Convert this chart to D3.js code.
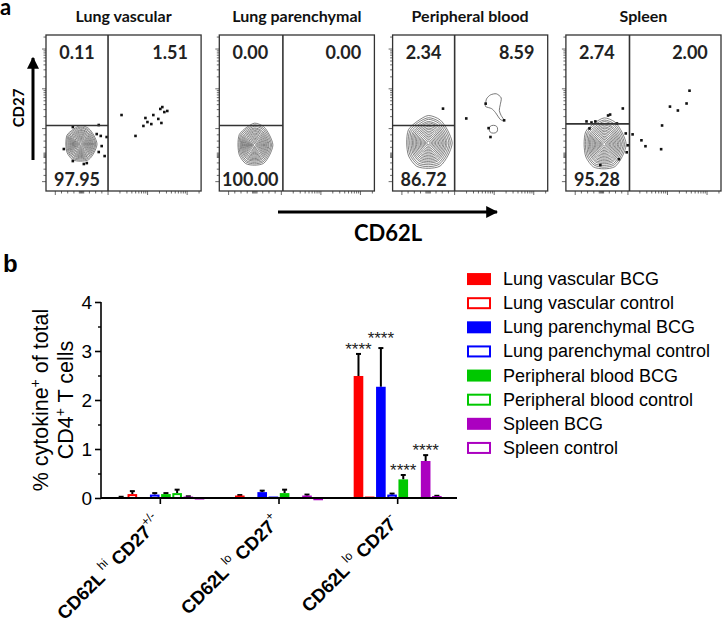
<!DOCTYPE html>
<html><head><meta charset="utf-8">
<script src="https://cdn.jsdelivr.net/npm/d3@7"></script>
<style>body{margin:0;background:#fff}svg{display:block}</style>
</head><body>
<svg id="c" width="725" height="619"></svg>
<script>
// ---------------- DATA ----------------
// Panel a (flow plots): axis units are fractions of each plot's axis (0..1)
const flowTitles = ["Lung vascular", "Lung parenchymal", "Peripheral blood", "Spleen"];
const flowUL = ["0.11", "0.00", "2.34", "2.74"];
const flowUR = ["1.51", "0.00", "8.59", "2.00"];
const flowLL = ["97.95", "100.00", "86.72", "95.28"];
const flowGateX = [0.40, 0.41, 0.40, 0.41];
const flowGateY = [0.42, 0.42, 0.42, 0.43];
// contour centre x, centre y, radius x, radius y
const flowContour = [
  [0.224, 0.301, 0.10, 0.112],
  [0.228, 0.295, 0.112, 0.132],
  [0.231, 0.308, 0.146, 0.166],
  [0.247, 0.299, 0.135, 0.160]
];
const vascularDots = [[0.173,0.410],[0.340,0.423],[0.327,0.365],[0.353,0.353],[0.391,0.346],[0.359,0.288],[0.378,0.224],[0.173,0.192],[0.244,0.173],[0.263,0.179],[0.115,0.269],[0.340,0.250],
  [0.487,0.487],[0.641,0.468],[0.628,0.417],[0.654,0.442],[0.679,0.429],[0.692,0.487],[0.724,0.462],[0.737,0.526],[0.750,0.538],[0.763,0.506],[0.782,0.513],[0.744,0.436],[0.577,0.353]];
const parenchymalDots = [];
const bloodDots = [[0.325,0.528],[0.475,0.465],[0.600,0.560],[0.719,0.453],[0.619,0.403],[0.631,0.346]];
const spleenDots = [[0.133,0.446],[0.165,0.439],[0.190,0.446],[0.272,0.484],[0.285,0.490],[0.367,0.529],[0.329,0.433],[0.152,0.401],[0.386,0.369],[0.399,0.293],[0.392,0.248],[0.342,0.204],[0.222,0.166],
  [0.430,0.363],[0.487,0.325],[0.513,0.287],[0.614,0.268],[0.620,0.420],[0.671,0.541],[0.722,0.516],[0.778,0.561],[0.797,0.643]];
const bloodLoop = [[0.600,0.560],[0.606,0.591],[0.631,0.616],[0.669,0.623],[0.700,0.597],[0.694,0.553],[0.688,0.516],[0.700,0.484],[0.719,0.453],[0.694,0.459],[0.663,0.503],[0.638,0.528],[0.600,0.541]];
const bloodSmallContour = [0.65, 0.396, 0.027, 0.025];
const ringLevels = [1, 0.93, 0.86, 0.79, 0.73, 0.67, 0.61, 0.55, 0.49, 0.43, 0.37, 0.31, 0.25, 0.19, 0.13, 0.07];
const ringWobble = [0.05, -0.02, 0.03, 0.06, -0.03, 0.02, -0.04, 0.01, 0.04, -0.02, 0.03, -0.01];

// Panel b (bar chart)
const groups = ["hi", "loPos", "loNeg"];
const seriesNames = ["Lung vascular BCG", "Lung vascular control", "Lung parenchymal BCG", "Lung parenchymal control",
  "Peripheral blood BCG", "Peripheral blood control", "Spleen BCG", "Spleen control"];
const vascBCG   = [0.02, 0.05, 2.49];  const vascBCGErr   = [0.005, 0.01, 0.45];
const vascCtrl  = [0.08, 0.00, 0.03];  const vascCtrlErr  = [0.06, 0, 0];
const parBCG    = [0.005, 0.12, 2.27]; const parBCGErr    = [0, 0.03, 0.79];
const parCtrl   = [0.07, 0.03, 0.07];  const parCtrlErr   = [0.03, 0, 0.02];
const bloodBCG  = [0.08, 0.10, 0.38];  const bloodBCGErr  = [0.02, 0.07, 0.09];
const bloodCtrl = [0.10, 0.00, 0.00];  const bloodCtrlErr = [0.07, 0, 0];
const splBCG    = [0.03, 0.05, 0.755]; const splBCGErr    = [0.005, 0.02, 0.12];
const splCtrl   = [0.02, 0.005, 0.04]; const splCtrlErr   = [0, 0, 0.005];
const starMarks = ["", "", "****"]; // significance shown over BCG bars
const yTicks = [0, 1, 2, 3, 4];

// ---------------- STYLE ----------------
const seriesColor = ["#ff0000", "#ff0000", "#0000ff", "#0000ff", "#00c800", "#00c800", "#ab00c0", "#ab00c0"];
const seriesFilled = [true, false, true, false, true, false, true, false];
const starDy = [1, 0, -4, 0, 1, 0, 1, 0];
const seriesVals = [vascBCG, vascCtrl, parBCG, parCtrl, bloodBCG, bloodCtrl, splBCG, splCtrl];
const seriesErrs = [vascBCGErr, vascCtrlErr, parBCGErr, parCtrlErr, bloodBCGErr, bloodCtrlErr, splBCGErr, splCtrlErr];
const flowDots = [vascularDots, parenchymalDots, bloodDots, spleenDots];

const svg = d3.select("#c");
const FLOW = "Lato, 'Open Sans', sans-serif";
const ARIAL = "'Liberation Sans', Arial, sans-serif";

// ---------------- PANEL A ----------------
svg.append("text").attr("x", 0).attr("y", 15).attr("font-family", FLOW).attr("font-weight", 700)
  .attr("font-size", 22).text("a");

const fx = d3.scaleBand().domain(flowTitles).range([46, 721]).paddingInner(0.105);
const fTop = 35, fH = 156;
const decLog = d3.scaleLog().domain([1e3, 1e5]).range([0.40, 0.91]);
const logTicks = d3.scaleLog().domain([1e3, 3e5]).ticks().map(v => ({f: decLog(v), major: Math.abs(Math.log10(v) - Math.round(Math.log10(v))) < 1e-9}))
  .filter(t => t.f <= 0.99);
const lowTicks = [0.06, 0.10, 0.14, 0.18, 0.215, 0.222, 0.229, 0.236, 0.243, 0.28, 0.32, 0.36].map(f => ({f, major: f === 0.06}));
const allTicks = lowTicks.concat(logTicks);

flowTitles.forEach((t, i) => {
  const left = fx(t), w = fx.bandwidth();
  const x = d3.scaleLinear().domain([0, 1]).range([left, left + w]);
  const y = d3.scaleLinear().domain([0, 1]).range([fTop + fH, fTop]);
  const g = svg.append("g");
  g.append("text").attr("x", left + w / 2).attr("y", 22).attr("text-anchor", "middle")
    .attr("font-family", FLOW).attr("font-weight", 700).attr("font-size", 16).attr("fill", "#111").text(t);

  allTicks.forEach(tk => {
    const L = tk.major ? 4 : 2.5;
    g.append("line").attr("x1", left).attr("x2", left - L).attr("y1", y(tk.f)).attr("y2", y(tk.f))
      .attr("stroke", "#444").attr("stroke-width", 0.8);
    g.append("line").attr("y1", fTop + fH).attr("y2", fTop + fH + L).attr("x1", x(tk.f)).attr("x2", x(tk.f))
      .attr("stroke", "#444").attr("stroke-width", 0.8);
  });

  const c = flowContour[i];
  const ring = d3.line().curve(d3.curveCardinalClosed.tension(0.2));
  ringLevels.forEach((lv, k) => {
    const pts = ringWobble.map((wb, j) => {
      const a = j / ringWobble.length * 2 * Math.PI;
      const s = 1 + wb * (k % 2 ? 0.8 : 1);
      return [x(c[0] + c[2] * lv * s * Math.cos(a)), y(c[1] + c[3] * lv * s * Math.sin(a))];
    });
    g.append("path").attr("d", ring(pts)).attr("fill", "none").attr("stroke", "#5a5a5a").attr("stroke-width", 0.75);
  });

  if (i === 2) {
    g.append("path").attr("d", ring(bloodLoop.map(p => [x(p[0]), y(p[1])])))
      .attr("fill", "none").attr("stroke", "#555").attr("stroke-width", 0.8);
    const s = bloodSmallContour;
    g.append("ellipse").attr("cx", x(s[0])).attr("cy", y(s[1])).attr("rx", x(s[2]) - x(0)).attr("ry", y(0) - y(s[3]))
      .attr("fill", "none").attr("stroke", "#555").attr("stroke-width", 0.8);
  }

  g.selectAll("rect.dot").data(flowDots[i]).join("rect").attr("class", "dot")
    .attr("x", d => x(d[0]) - 1.3).attr("y", d => y(d[1]) - 1.3).attr("width", 2.6).attr("height", 2.6).attr("fill", "#111");

  g.append("rect").attr("x", left).attr("y", fTop).attr("width", w).attr("height", fH)
    .attr("fill", "none").attr("stroke", "#333").attr("stroke-width", 1.3);
  g.append("line").attr("x1", x(flowGateX[i])).attr("x2", x(flowGateX[i])).attr("y1", fTop).attr("y2", fTop + fH)
    .attr("stroke", "#333").attr("stroke-width", 1.6);
  g.append("line").attr("x1", left).attr("x2", x(flowGateX[i])).attr("y1", y(flowGateY[i])).attr("y2", y(flowGateY[i]))
    .attr("stroke", "#333").attr("stroke-width", 1.6);

  const lab = (tx, xx, yy) => g.append("text").attr("x", xx).attr("y", yy).attr("text-anchor", "middle")
    .attr("font-family", FLOW).attr("font-weight", 700).attr("font-size", 18).attr("fill", "#222").text(tx);
  lab(flowUL[i], x(0.2), fTop + 24);
  lab(flowUR[i], x(0.8), fTop + 24);
  lab(flowLL[i], x(0.2), fTop + fH - 5);
});

// axis arrows
svg.append("defs").append("marker").attr("id", "ah").attr("viewBox", "0 0 10 10").attr("refX", 9).attr("refY", 5)
  .attr("markerWidth", 4).attr("markerHeight", 4).attr("orient", "auto")
  .append("path").attr("d", "M0,0 L10,5 L0,10 z").attr("fill", "#000");
svg.append("line").attr("x1", 33).attr("x2", 33).attr("y1", 160).attr("y2", 58)
  .attr("stroke", "#000").attr("stroke-width", 3).attr("marker-end", "url(#ah)");
svg.append("text").attr("transform", "translate(24,108) rotate(-90)").attr("text-anchor", "middle")
  .attr("font-family", FLOW).attr("font-weight", 700).attr("font-size", 15).text("CD27");
svg.append("line").attr("x1", 278).attr("x2", 497).attr("y1", 212).attr("y2", 212)
  .attr("stroke", "#000").attr("stroke-width", 3).attr("marker-end", "url(#ah)");
svg.append("text").attr("x", 388).attr("y", 241).attr("text-anchor", "middle")
  .attr("font-family", FLOW).attr("font-weight", 700).attr("font-size", 22).text("CD62L");

// ---------------- PANEL B ----------------
svg.append("text").attr("x", 3).attr("y", 272).attr("font-family", ARIAL).attr("font-weight", 700)
  .attr("font-size", 24).text("b");

const yB = d3.scaleLinear().domain([0, 4]).range([498, 302]);
const xG = d3.scaleBand().domain(groups).range([101, 457]);
const groupSpan = 88;
const xS = d3.scaleBand().domain(seriesNames).range([0, groupSpan]).paddingInner(0.14);
const gOff = (xG.bandwidth() - groupSpan) / 2;

const yAxis = d3.axisLeft(yB).tickValues(yTicks).tickSize(6).tickPadding(3).tickFormat(d3.format("d"));
const ya = svg.append("g").attr("transform", "translate(101,0)").call(yAxis);
ya.select(".domain").attr("stroke-width", 1.6).attr("d", `M0,${yB(4)}V${yB(0)}`);
ya.selectAll(".tick line").attr("stroke-width", 1.6);
ya.selectAll(".tick text").attr("font-family", ARIAL).attr("font-size", 19).attr("fill", "#000");
const yMinor = d3.axisLeft(yB).tickValues([0.5, 1.5, 2.5, 3.5]).tickSize(3).tickFormat("");
const ym = svg.append("g").attr("transform", "translate(101,0)").call(yMinor);
ym.select(".domain").remove();
ym.selectAll(".tick line").attr("stroke-width", 1.4);

// y label
const yMid = (yB(0) + yB(4)) / 2;
const yl = svg.append("text").attr("transform", `translate(48,${yMid}) rotate(-90)`)
  .attr("text-anchor", "middle").attr("font-family", ARIAL).attr("font-size", 21.5);
yl.append("tspan").text("% cytokine");
yl.append("tspan").attr("dy", -8).attr("font-size", 14).text("+");
yl.append("tspan").attr("dy", 8).text(" of total");
const yl2 = svg.append("text").attr("transform", `translate(73,${yMid}) rotate(-90)`)
  .attr("text-anchor", "middle").attr("font-family", ARIAL).attr("font-size", 21.5);
yl2.append("tspan").text("CD4");
yl2.append("tspan").attr("dy", -8).attr("font-size", 14).text("+");
yl2.append("tspan").attr("dy", 8).text(" T cells");

// bars
seriesNames.forEach((s, si) => {
  groups.forEach((gk, gi) => {
    const v = seriesVals[si][gi], e = seriesErrs[si][gi];
    const bx = xG(gk) + gOff + xS(s), bw = xS.bandwidth();
    const top = yB(v), cx = bx + bw / 2;
    if (e > 0) {
      svg.append("line").attr("x1", cx).attr("x2", cx).attr("y1", top).attr("y2", yB(v + e)).attr("stroke", "#000").attr("stroke-width", 2);
      svg.append("line").attr("x1", cx - 2.5).attr("x2", cx + 2.5).attr("y1", yB(v + e)).attr("y2", yB(v + e)).attr("stroke", "#000").attr("stroke-width", 2);
    }
    if (seriesFilled[si]) {
      svg.append("rect").attr("x", bx).attr("y", top).attr("width", bw).attr("height", Math.max(1.2, yB(0) - top)).attr("fill", seriesColor[si]);
    } else if (v > 0) {
      svg.append("rect").attr("x", bx + 1).attr("y", top + 1).attr("width", bw - 2).attr("height", Math.max(0.5, yB(0) - top - 1))
        .attr("fill", "#fff").attr("stroke", seriesColor[si]).attr("stroke-width", 2);
    }
    if (seriesFilled[si] && starMarks[gi]) {
      svg.append("text").attr("x", cx).attr("y", yB(v + e) + starDy[si]).attr("text-anchor", "middle")
        .attr("font-family", ARIAL).attr("font-size", 17).attr("fill", "#222").text(starMarks[gi]);
    }
  });
});

// x axis
svg.append("line").attr("x1", 101).attr("x2", 457).attr("y1", yB(0)).attr("y2", yB(0)).attr("stroke", "#000").attr("stroke-width", 2);
groups.forEach(gk => {
  const cx = xG(gk) + xG.bandwidth() / 2;
  svg.append("line").attr("x1", cx).attr("x2", cx).attr("y1", yB(0)).attr("y2", yB(0) + 6).attr("stroke", "#000").attr("stroke-width", 1.6);
});
const xLabelParts = [
  ["CD62L", " hi", " CD27", "+/-"],
  ["CD62L", " lo", " CD27", "+"],
  ["CD62L", " lo", " CD27", "-"]
];
groups.forEach((gk, gi) => {
  const cx = xG(gk) + xG.bandwidth() / 2;
  const t = svg.append("text").attr("transform", `translate(${cx + 2},${yB(0) + 25}) rotate(-45)`)
    .attr("text-anchor", "end").attr("font-family", ARIAL).attr("font-weight", 700).attr("font-size", 18.5);
  const p = xLabelParts[gi];
  t.append("tspan").text(p[0]);
  t.append("tspan").attr("dy", -9).attr("font-size", 12).attr("font-weight", 400).text(p[1]);
  t.append("tspan").attr("dy", 9).text(p[2]);
  t.append("tspan").attr("dy", -9).attr("font-size", 12).attr("font-weight", 400).text(p[3]);
});

// legend
const lg = d3.scaleBand().domain(seriesNames).range([267, 460]);
seriesNames.forEach((s, si) => {
  const cy = lg(s) + lg.bandwidth() / 2;
  if (seriesFilled[si]) {
    svg.append("rect").attr("x", 467).attr("y", cy - 6).attr("width", 24).attr("height", 12).attr("fill", seriesColor[si]);
  } else {
    svg.append("rect").attr("x", 468).attr("y", cy - 5).attr("width", 22).attr("height", 10).attr("fill", "#fff")
      .attr("stroke", seriesColor[si]).attr("stroke-width", 2);
  }
  svg.append("text").attr("x", 503).attr("y", cy + 6).attr("font-family", ARIAL).attr("font-size", 18).attr("fill", "#000").text(s);
});
</script>
</body></html>
